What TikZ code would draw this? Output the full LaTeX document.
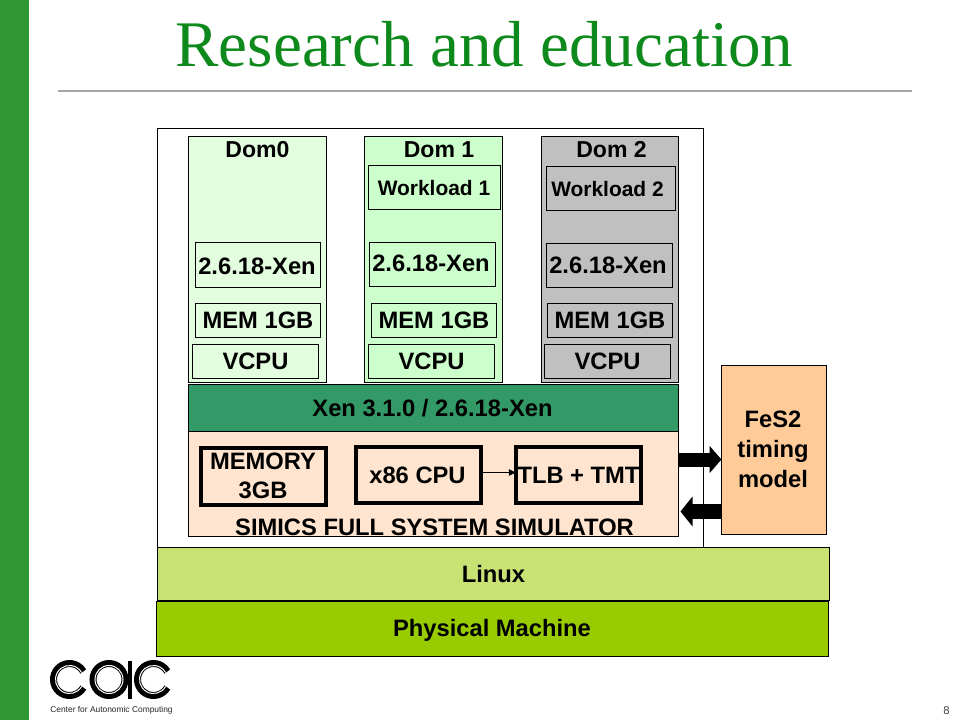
\documentclass[tikz,border=0pt]{standalone}
\usepackage{fontspec}
\setmainfont{Liberation Sans}
\newfontfamily\titlefont{Liberation Serif}
\usetikzlibrary{arrows.meta}
\definecolor{sidegreen}{HTML}{2E9632}
\definecolor{titlegreen}{HTML}{0E8A1C}
\definecolor{rulegray}{HTML}{A6A6A6}
\definecolor{domzero}{HTML}{E3FDDF}
\definecolor{domone}{HTML}{CCFFCC}
\definecolor{domtwo}{HTML}{C0C0C0}
\definecolor{xengreen}{HTML}{339966}
\definecolor{simics}{HTML}{FFE5CF}
\definecolor{fesbox}{HTML}{FFCC99}
\definecolor{linuxgreen}{HTML}{C8E274}
\definecolor{physgreen}{HTML}{99CC00}
\newcommand{\bigf}{\fontsize{17.8}{21}\selectfont\bfseries}
\newcommand{\domf}{\fontsize{17.3}{21}\selectfont\bfseries}
\newcommand{\wkf}{\fontsize{15.7}{19}\selectfont\bfseries}
\tikzset{
  x=0.75pt,y=-0.75pt,
  bx/.style={draw=black,line width=0.75pt,inner sep=0pt,outer sep=0pt,anchor=north west,align=center,font=\bigf},
  lbl/.style={inner sep=0pt,align=center,font=\bigf},
  heavy/.style={draw=black,line width=3pt,inner sep=0pt,outer sep=0pt,anchor=north west,align=center,fill=simics,font=\bigf},
  logostroke/.style={line width=5.25pt,draw=black,line cap=butt},
  logoinner/.style={line width=0.75pt,draw=white,line cap=butt}
}
\newcommand{\bxat}[7][]{\node[bx,#1,fill=#7,minimum width=#4*0.75pt,minimum height=#5*0.75pt] (#2) at #3 {#6};}
\begin{document}
\begin{tikzpicture}
\useasboundingbox (0,0) rectangle (960,720);
\fill[white] (0,0) rectangle (960,720);
\fill[sidegreen] (0,0) rectangle (29,720);
\coordinate (ruleL) at (58,91); \coordinate (ruleR) at (912,91);
\draw[rulegray,line width=1pt] (ruleL) -- (ruleR);
\begin{scope}[shift={(0.5,0.5)}]
\node[inner sep=0pt,text=titlegreen,font=\titlefont\fontsize{48.8}{60}\selectfont] (title) at (484,44) {Research and education};
% outer frame
\node[bx,fill=white,minimum width=546*0.75pt,minimum height=419*0.75pt] (frame) at (157,128) {};
% domains
\bxat{dom0}{(188,136)}{138}{246}{}{domzero}
\bxat{dom1}{(364,136)}{138}{246}{}{domone}
\bxat{dom2}{(541,136)}{137}{246}{}{domtwo}
\node[lbl,font=\domf] (d0t) at (257,149) {Dom0};
\node[lbl,font=\domf] (d1t) at (438.5,149) {Dom 1};
\node[lbl,font=\domf] (d2t) at (611,149) {Dom 2};
\bxat{w1}{(368,165)}{132}{44}{}{domone}
\bxat{w2}{(546,166)}{129}{44}{}{domtwo}
\node[lbl,font=\wkf] (w1t) at (433.5,188) {Workload 1};
\node[lbl,font=\wkf] (w2t) at (607,189) {Workload 2};
\bxat{x0}{(195,242)}{125}{45}{}{domzero}
\bxat{x1}{(369,242)}{126}{44}{}{domone}
\bxat{x2}{(546,243)}{126}{44}{}{domtwo}
\node[lbl] (x0t) at (256.5,266) {2.6.18-Xen};
\node[lbl] (x1t) at (430.5,263) {2.6.18-Xen};
\node[lbl] (x2t) at (607.5,265) {2.6.18-Xen};
\bxat{m0}{(195,303)}{125}{34}{MEM 1GB}{domzero}
\bxat{m1}{(371,303)}{125}{34}{MEM 1GB}{domone}
\bxat{m2}{(547,303)}{125}{34}{MEM 1GB}{domtwo}
\bxat{v0}{(192,344)}{126}{34}{VCPU}{domzero}
\bxat{v1}{(368,344)}{126}{34}{VCPU}{domone}
\bxat{v2}{(544,344)}{126}{34}{VCPU}{domtwo}
% simulator
\bxat{sim}{(188,431)}{490}{105}{}{simics}
\bxat{xen}{(188,384)}{490}{47}{}{xengreen}
\node[lbl] (xent) at (432,408) {Xen 3.1.0 / 2.6.18-Xen};
\node[heavy,minimum width=125*0.75pt,minimum height=57*0.75pt] (mem) at (200,447) {};
\node[lbl] (memt) at (262.5,475.5) {MEMORY\\[1.2pt]3GB};
\node[heavy,minimum width=125*0.75pt,minimum height=56*0.75pt] (cpu) at (355,446) {};
\node[lbl] (cput) at (417,475) {x86 CPU};
\node[heavy,minimum width=125*0.75pt,minimum height=56*0.75pt] (tlb) at (515,446) {};
\node[lbl] (tlbt) at (578,475) {TLB + TMT};
\draw[line width=0.5pt,-{Triangle[length=5pt,width=5pt]}] ([yshift=1.5pt]cpu.east) -- ([yshift=1.5pt]tlb.west);
\node[lbl] (simt) at (434,526.5) {SIMICS FULL SYSTEM SIMULATOR};
% fes2
\bxat{fes}{(721,365)}{105}{169}{}{fesbox}
\node[lbl] (fest) at (772.5,448.5) {FeS2\\[1.5pt]timing\\[1.5pt]model};
\coordinate (fa) at (678.5,459);
\coordinate (fb) at (680,511);
\draw[line width=10.5pt,-{Triangle[length=9pt,width=20pt]}] (fa) -- (fes.west |- fa);
\draw[line width=11pt,-{Triangle[length=9pt,width=22pt]}] (fes.west |- fb) -- (fb);
% base
\bxat{linux}{(157,547)}{672}{53}{Linux}{linuxgreen}
\bxat{phys}{(156,601)}{672}{55}{}{physgreen}
\node[lbl] (physt) at (491.5,630) {Physical Machine};
% logo
\foreach \cx in {69,153}{
  \draw[logostroke] ([shift={(30:16)}]\cx,679) arc[start angle=30,end angle=330,radius=16];
  \draw[logoinner] ([shift={(30:14)}]\cx,679) arc[start angle=30,end angle=330,radius=14];
}
\draw[logostroke] (108.5,679) circle[radius=16];
\draw[logoinner] (108.5,679) circle[radius=14];
\coordinate (stemT) at (129.5,660); \coordinate (stemB) at (129.5,698);
\draw[line width=3.2pt] (stemT) -- (stemB);
\node[inner sep=0pt,font=\fontsize{6.3}{8}\selectfont,text=black!85] (logot) at (111,710) {Center for Autonomic Computing};
\node[inner sep=0pt,font=\fontsize{8.5}{10}\selectfont,text=black!75] (pg) at (946,710) {8};
\end{scope}
\end{tikzpicture}
\end{document}
